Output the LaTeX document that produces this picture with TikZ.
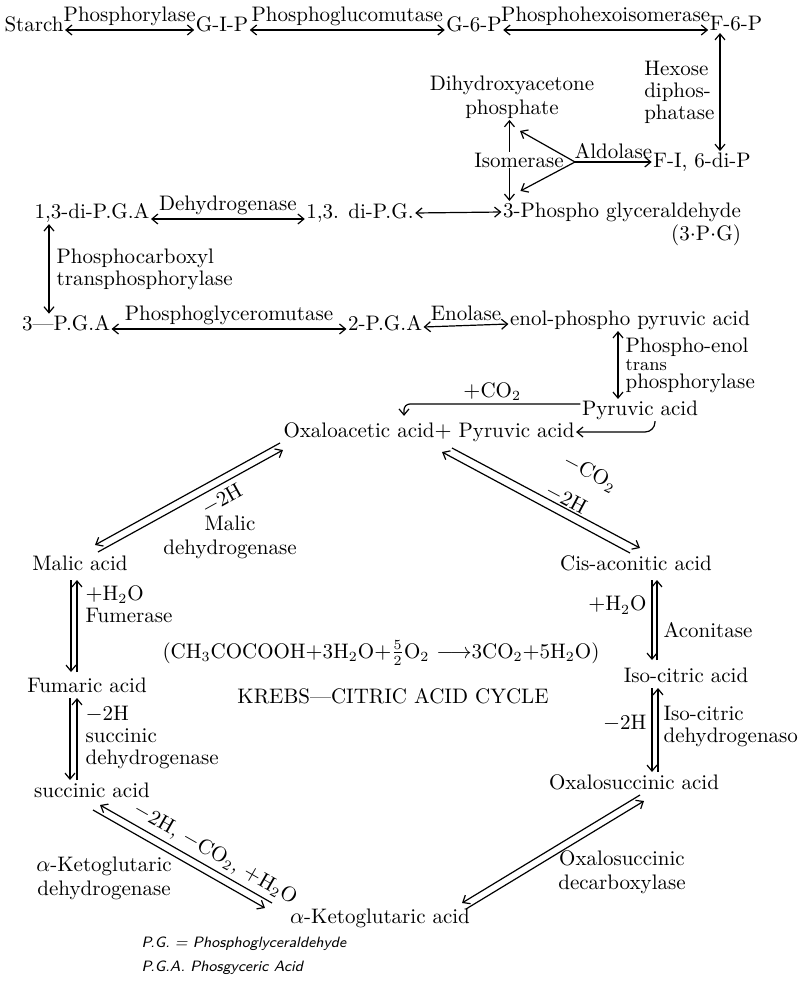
\documentclass[tikz,border=0pt]{standalone}
\usetikzlibrary{arrows.meta}
\begin{document}
\begin{tikzpicture}[x=0.5pt, y=-0.5pt, line width=0.6pt,
    >={Straight Barb[length=3pt,width=5pt]},
    every node/.style={inner sep=0.5pt, font=\fontsize{10.5}{12}\selectfont},
    enz/.style={align=left, font=\fontsize{10.5}{11}\selectfont},
    foot/.style={anchor=west, font=\fontsize{7.5}{9}\selectfont\sffamily\itshape}]
    \useasboundingbox (0,0) rectangle (811,985);
    % glycolysis
    \node (starch) at (34,24) {Starch};
    \node (gip) at (222,24) {G-I-P};
    \node (g6p) at (474,24) {G-6-P};
    \node (f6p) at (736,24) {F-6-P};
    \draw[<->] ([yshift=-3pt]starch.east) -- ([yshift=-3pt]gip.west) node[midway,above=1.5pt] (e1) {Phosphorylase};
    \draw[<->] ([yshift=-3pt]gip.east) -- ([yshift=-3pt]g6p.west) node[midway,above=1.5pt] (e2) {Phosphoglucomutase};
    \draw[<->] ([yshift=-3pt]g6p.east) -- ([yshift=-3pt]f6p.west) node[midway,above=1.5pt] (e3) {Phosphohexoisomerase};
    \node (fdp) at (702,162) {F-I, 6-di-P};
    \draw[<->] ([xshift=-8pt]f6p.south) -- ([xshift=9pt]fdp.north) node[midway,left=2pt,enz] (e4) {Hexose\\diphos-\\phatase};
    \node[align=center] (dhap) at (512,97) {Dihydroxyacetone\\phosphate};
    \node (dpga) at (92,213) {1,3-di-P.G.A};
    \node (dpg) at (360,213) {1,3. di-P.G.};
    \node (pga3) at (622,212) {3-Phospho glyceraldehyde};
    \node[anchor=north east] (pgs) at (pga3.south east) {(3$\cdot$P$\cdot$G)};
    \coordinate (isotop) at ([xshift=4pt]pga3.north west);
    \draw[<->] (dhap.south -| isotop) -- (isotop);
    \node[fill=white] (isom) at (519,160) {Isomerase};
    \coordinate (ald) at (575,162);
    \draw[->] (ald) -- (fdp.west) node[midway,above=1pt] (e5) {Aldolase};
    \draw[->] (ald) -- ([xshift=4pt,yshift=-5.5pt]dhap.south);
    \draw[->] (ald) -- ([xshift=5.5pt,yshift=5pt]isotop);
    \draw[<->] ([yshift=-3pt]dpga.east) -- ([yshift=-3pt]dpg.west) node[midway,above=1.5pt] (e6) {Dehydrogenase};
    \draw[<->] (dpg.east) -- (pga3.west);
    \node (p3ga) at (66,323) {3---P.G.A};
    \node (p2ga) at (385,323) {2-P.G.A};
    \node (pep) at (630,320) {enol-phospho pyruvic acid};
    \draw[<->] ([xshift=-21.5pt]dpga.south) -- ([xshift=-8.5pt]p3ga.north) node[midway,right=3pt,enz] (e7) {Phosphocarboxyl\\transphosphorylase};
    \draw[<->] ([yshift=-3pt]p3ga.east) -- ([yshift=-3pt]p2ga.west) node[midway,above=1.5pt] (e8) {Phosphoglyceromutase};
    \draw[<->] ([yshift=-2pt]p2ga.east) -- ([yshift=-2pt]pep.west) node[midway,above=1.5pt] (e9) {Enolase};
    \node (pyr1) at (640,410) {Pyruvic acid};
    \node (oxa) at (429,432) {Oxaloacetic acid$+$ Pyruvic acid};
    \draw[<->] ([xshift=-6pt]pep.south) -- ([xshift=-11pt]pyr1.north) node[midway,right=3pt,enz] (e10) {Phospho-enol\\[-2pt]{\small trans}\\[-2pt]phosphorylase};
    \coordinate (oxtip) at ([xshift=-12.5pt,yshift=2.5pt]oxa.north);
    \draw[->,rounded corners=3pt] ([yshift=3pt]pyr1.west) -| (oxtip) node[pos=0.25,above=1pt] (co2) {$+$CO$_2$};
    \draw[->,rounded corners=5pt] ([xshift=7.5pt]pyr1.south) |- (oxa.east);
    % Krebs cycle
    \node (malic) at (80,563) {Malic acid};
    \node (fum) at (87,685) {Fumaric acid};
    \node (succ) at (92,790) {succinic acid};
    \node (akg) at (380,918) {$\alpha$-Ketoglutaric acid};
    \node (oxs) at (634,782) {Oxalosuccinic acid};
    \node (iso) at (686,675) {Iso-citric acid};
    \node (cis) at (636,563) {Cis-aconitic acid};
    \draw[->] ([shift={(-149,11)}]oxa.center) -- ([shift={(15,-18)}]malic.center);
    \draw[->] ([shift={(18,-11)}]malic.center) -- ([shift={(-146,18)}]oxa.center);
    \node[rotate=29] (l1) at (222,500) {$-$2H};
    \node[align=center] (l2) at (230,537) {Malic\\dehydrogenase};
    \draw[->] ([shift={(-9,17)}]malic.center) -- ([shift={(-16,-13)}]fum.center);
    \draw[->] ([shift={(-10,-13)}]fum.center) -- ([shift={(-3,17)}]malic.center);
    \node[enz,anchor=west] (l3) at (84,604) {$+$H$_2$O\\Fumerase};
    \draw[->] ([shift={(-17,13)}]fum.center) -- ([shift={(-22,-10)}]succ.center);
    \draw[->] ([shift={(-15,-10)}]succ.center) -- ([shift={(-10,13)}]fum.center);
    \node[enz,anchor=west] (l4) at (84,737) {$-$2H\\succinic\\dehydrogenase};
    \draw[->] ([shift={(-108,-15)}]akg.center) -- ([shift={(8,15)}]succ.center);
    \draw[->] ([shift={(1,20)}]succ.center) -- ([shift={(-115,-10)}]akg.center);
    \node[rotate=-29.7] (l5) at (215,854) {$-$2H, $-$CO$_2$, $+$H$_2$O};
    \node[align=center] (l6) at (104,878) {$\alpha$-Ketoglutaric\\dehydrogenase};
    \draw[->] ([shift={(6,13)}]oxs.center) -- ([shift={(82,-15)}]akg.center);
    \draw[->] ([shift={(86,-9)}]akg.center) -- ([shift={(10,19)}]oxs.center);
    \node[align=center] (l7) at (622,872) {Oxalosuccinic\\decarboxylase};
    \draw[->] ([shift={(-34,13)}]iso.center) -- ([shift={(18,-10)}]oxs.center);
    \draw[->] ([shift={(24,-10)}]oxs.center) -- ([shift={(-28,13)}]iso.center);
    \node[anchor=east] (l8) at (648,723) {$-$2H};
    \node[enz,anchor=west] (l9) at (662,726) {Iso-citric\\dehydrogenaso};
    \draw[->] ([shift={(16,17)}]cis.center) -- ([shift={(-34,-15)}]iso.center);
    \draw[->] ([shift={(-29,-15)}]iso.center) -- ([shift={(21,17)}]cis.center);
    \node[anchor=east] (l10) at (648,605) {$+$H$_2$O};
    \node[anchor=west] (l11) at (662,630) {Aconitase};
    \draw[->] ([shift={(23,16)}]oxa.center) -- ([shift={(4,-15)}]cis.center);
    \draw[->] ([shift={(-6,-10)}]cis.center) -- ([shift={(13,20)}]oxa.center);
    \node[rotate=-28] (l12) at (590,473) {$-$CO$_2$};
    \node[rotate=-28] (l13) at (566,499) {$-$2H};
    \node (eqn) at (381,653) {(CH$_3$COCOOH$+$3H$_2$O$+\frac{5}{2}$O$_2$ $\longrightarrow$3CO$_2$$+$5H$_2$O)};
    \node (title) at (393,696) {KREBS---CITRIC ACID CYCLE};
    \node[foot] (n1) at (140,944) {P.G. = Phosphoglyceraldehyde};
    \node[foot] (n2) at (140,968) {P.G.A. Phosgyceric Acid};
\end{tikzpicture}
\end{document}
